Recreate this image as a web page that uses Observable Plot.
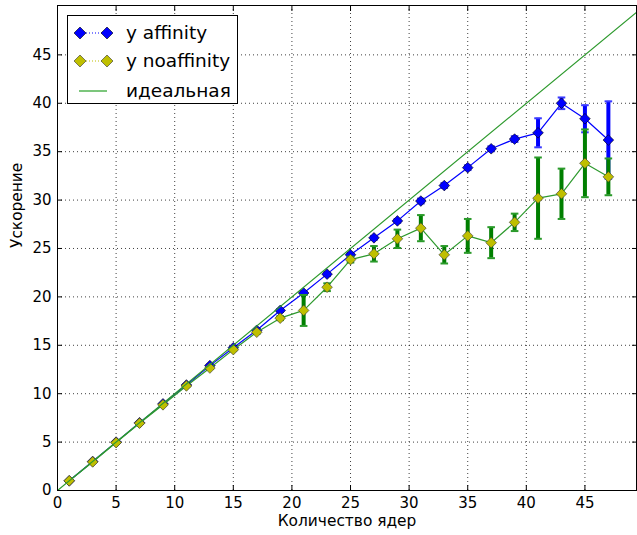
<!DOCTYPE html>
<html><head><meta charset="utf-8">
<script src="https://cdn.jsdelivr.net/npm/d3@7"></script>
<script src="https://cdn.jsdelivr.net/npm/@observablehq/plot@0.6"></script>
<style>
body{margin:0;background:#fff;}
#wrap{position:relative;width:637px;height:535px;font-family:"DejaVu Sans",sans-serif;}
#legend{position:absolute;left:67px;top:15px;width:169px;height:87px;background:#fff;border:1px solid #000;}
#legend .row{position:absolute;left:0;height:28px;width:100%;}
#legend .lab{position:absolute;left:58px;top:3px;font-size:18.5px;line-height:22px;color:#000;white-space:nowrap;}
#legend svg{position:absolute;left:0;top:0;}
</style></head><body><div id="wrap"></div>
<script>
const cores = [1,3,5,7,9,11,13,15,17,19,21,23,25,27,29,31,33,35,37,39,41,43,45,47];
const affinity = [1.0,3.0,5.0,7.0,8.95,10.9,12.9,14.75,16.55,18.6,20.4,22.35,24.35,26.1,27.85,29.9,31.5,33.35,35.3,36.3,36.95,40.0,38.4,36.2];
const affinityErr = [0.05,0.05,0.05,0.05,0.05,0.1,0.1,0.1,0.1,0.15,0.2,0.2,0.2,0.2,0.2,0.25,0.25,0.25,0.25,0.3,1.5,0.6,1.4,4.0];
const noaffinity = [1.0,2.95,4.95,6.95,8.85,10.8,12.65,14.55,16.35,17.8,18.6,21.0,23.85,24.45,26.0,27.1,24.35,26.3,25.6,27.7,30.2,30.65,33.8,32.4];
const noaffinityErr = [0.05,0.05,0.05,0.05,0.05,0.1,0.1,0.1,0.15,0.2,1.6,0.4,0.3,0.8,0.95,1.35,0.9,1.75,1.6,0.9,4.2,2.6,3.5,1.9];
const ideal = [0, 50];
const xTicks = [0,5,10,15,20,25,30,35,40,45];
const yTicks = [0,5,10,15,20,25,30,35,40,45];
const seriesNames = ["y affinity","y noaffinity","идеальная"];
const xLabel = "Количество ядер";
const yLabel = "Ускорение";

const blueRows = cores.map((x,i)=>({x, y: affinity[i], e: affinityErr[i]}));
const yelRows = cores.map((x,i)=>({x, y: noaffinity[i], e: noaffinityErr[i]}));

const cap = {draw(ctx, size){ const w = Math.sqrt(size/Math.PI); ctx.moveTo(-w,0); ctx.lineTo(w,0); }};

const BLUE = "#0000ff", YEL = "#bfbf00", BARG = "#007f00", LINEG = "#2e9a2e";

function errMarks(rows, color, capColor){
  return [
    Plot.ruleX(rows, {x:"x", y1:d=>d.y-d.e, y2:d=>d.y+d.e, stroke:color, strokeWidth:4}),
    Plot.dot(rows, {x:"x", y:d=>d.y+d.e, symbol:cap, r:3.8, fill:"none", stroke:capColor, strokeWidth:2}),
    Plot.dot(rows, {x:"x", y:d=>d.y-d.e, symbol:cap, r:3.8, fill:"none", stroke:capColor, strokeWidth:2})
  ];
}

const chart = Plot.plot({
  width: 637, height: 535,
  marginLeft: 57, marginRight: 1, marginTop: 5, marginBottom: 45,
  x: {domain:[0,49.4]},
  y: {domain:[0,50.1]},
  style: {fontFamily:"DejaVu Sans", fontSize:"15px", color:"#000", background:"#fff", overflow:"visible"},
  marks: [
    Plot.gridX(xTicks, {stroke:"#000", strokeOpacity:0.75, strokeDasharray:"1,3"}),
    Plot.gridY(yTicks, {stroke:"#000", strokeOpacity:0.75, strokeDasharray:"1,3"}),
    Plot.axisX(xTicks, {anchor:"bottom", tickSize:0, tickPadding:7, label:null, fontSize:15}),
    Plot.axisY(yTicks, {anchor:"left", tickSize:0, tickPadding:6, label:null, fontSize:15}),
    Plot.axisX(xTicks, {anchor:"bottom", tickSize:-5, fill:"none", label:null}),
    Plot.axisX(xTicks, {anchor:"top", tickSize:-5, fill:"none", label:null}),
    Plot.axisY(yTicks, {anchor:"left", tickSize:-5, fill:"none", label:null}),
    Plot.axisY(yTicks, {anchor:"right", tickSize:-5, fill:"none", label:null}),
    Plot.text([xLabel], {frameAnchor:"bottom", text:d=>d, dy:35, fontSize:15.4}),
    Plot.text([yLabel], {frameAnchor:"left", text:d=>d, dx:-40, rotate:-90, fontSize:15.4}),
    // affinity
    Plot.line(blueRows, {x:"x", y:"y", stroke:BLUE, strokeWidth:1.2}),
    ...errMarks(blueRows, BLUE, "#3a3aff"),
    Plot.dot(blueRows, {x:"x", y:"y", symbol:"diamond2", r:4.8, fill:BLUE, stroke:"#000", strokeWidth:0.6}),
    // noaffinity
    Plot.line(yelRows, {x:"x", y:"y", stroke:LINEG, strokeWidth:1.2}),
    ...errMarks(yelRows, BARG, "#2a9a2a"),
    Plot.dot(yelRows, {x:"x", y:"y", symbol:"diamond2", r:4.8, fill:YEL, stroke:"#333", strokeWidth:0.6}),
    // ideal
    Plot.line(ideal, {x:d=>d, y:d=>d, stroke:LINEG, strokeWidth:1.2, clip:true}),
    Plot.frame({stroke:"#000", strokeWidth:1})
  ]
});

const wrap = document.getElementById("wrap");
wrap.appendChild(chart);

// legend
const leg = document.createElement("div");
leg.id = "legend";
const dm = (cx, fill, st) => `<path d="M${cx},8 L${cx+6},14 L${cx},20 L${cx-6},14Z" fill="${fill}" stroke="${st}" stroke-width="0.6"/>`;
const samples = [
  `<svg width="56" height="28"><line x1="12" y1="14" x2="39" y2="14" stroke="${BLUE}" stroke-width="1" stroke-dasharray="1,2"/>${dm(12,BLUE,"#000")}${dm(39,BLUE,"#000")}</svg>`,
  `<svg width="56" height="28"><line x1="12" y1="14" x2="39" y2="14" stroke="${YEL}" stroke-width="1" stroke-dasharray="1,2"/>${dm(12,YEL,"#333")}${dm(39,YEL,"#333")}</svg>`,
  `<svg width="56" height="28"><line x1="11" y1="14" x2="39" y2="14" stroke="#5cb85c" stroke-width="1.6"/></svg>`
];
const tops = [3, 31, 61];
seriesNames.forEach((name,i)=>{
  const r = document.createElement("div");
  r.className = "row";
  r.style.top = tops[i] + "px";
  r.innerHTML = samples[i] + `<span class="lab">${name}</span>`;
  leg.appendChild(r);
});
wrap.appendChild(leg);
</script>
</body></html>
